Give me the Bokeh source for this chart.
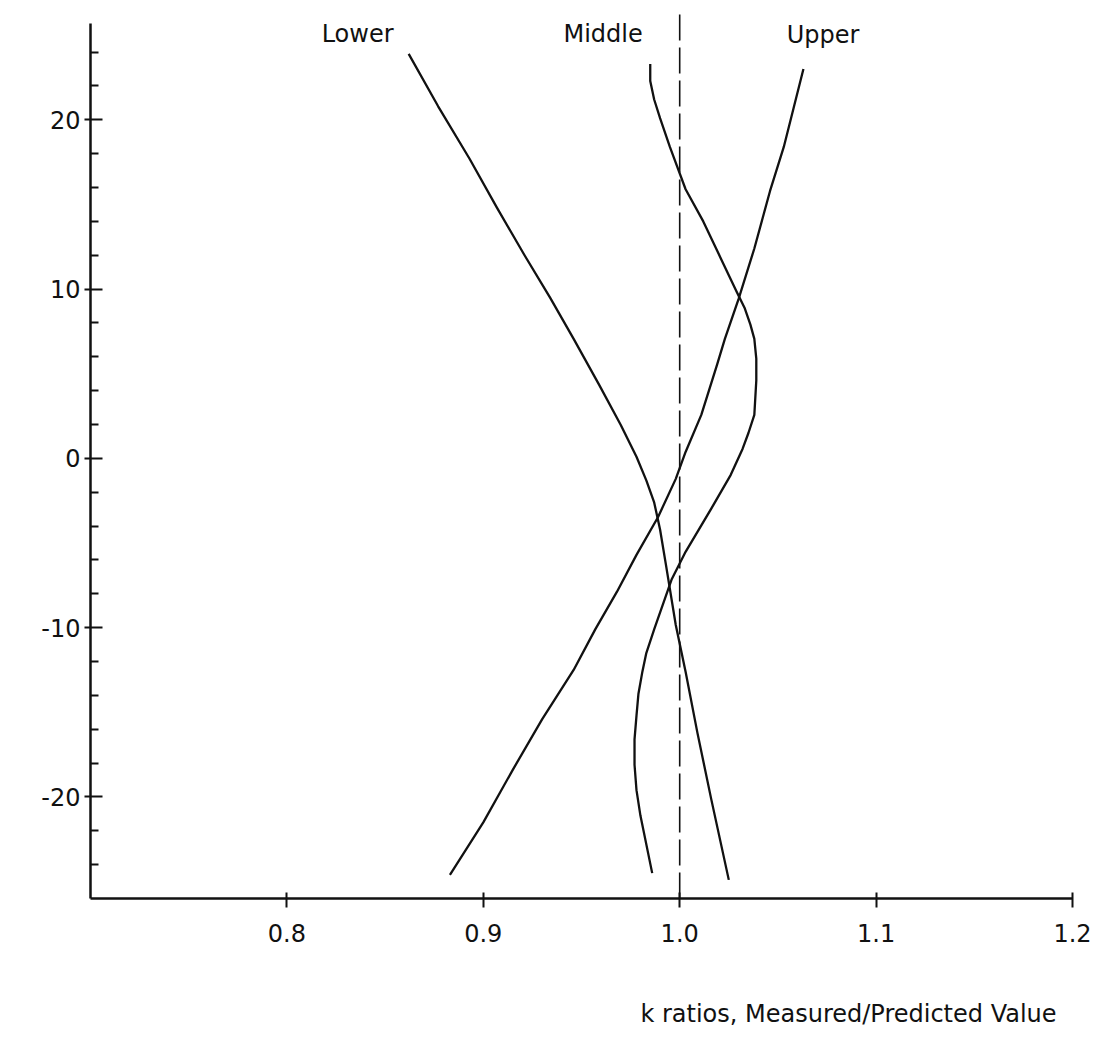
from bokeh.plotting import figure
from bokeh.layouts import column
from bokeh.models import FixedTicker, Range1d
from bokeh.core.properties import value
from bokeh.embed import file_html
from bokeh.resources import INLINE

# ---- data ----
lower_x = [0.862, 0.877, 0.893, 0.907, 0.921, 0.934, 0.946, 0.959, 0.970, 0.978, 0.983, 0.987, 0.990,
           0.993, 0.998, 1.003, 1.009, 1.016, 1.025]
lower_y = [23.9, 20.8, 17.7, 14.8, 12.0, 9.5, 7.06, 4.34, 1.97, 0.1, -1.3, -2.6, -4.2,
           -6.29, -9.84, -12.6, -16.2, -20.1, -24.9]

middle_x = [0.985, 0.985, 0.987, 0.990, 0.995, 1.003, 1.012, 1.021, 1.029, 1.033, 1.036, 1.038, 1.039, 1.039,
            1.038, 1.035, 1.032, 1.026, 1.016, 1.003, 0.996, 0.987, 0.983, 0.981, 0.979, 0.978, 0.977,
            0.977, 0.978, 0.980, 0.986]
middle_y = [23.3, 22.3, 21.2, 20.1, 18.4, 15.9, 14.0, 11.8, 9.84, 8.9, 7.9, 7.06, 5.9, 4.6,
            2.57, 1.5, 0.56, -0.97, -2.98, -5.52, -7.12, -10.1, -11.5, -12.6, -13.9, -15.2, -16.6,
            -18.1, -19.6, -21.1, -24.5]

upper_x = [1.063, 1.058, 1.053, 1.046, 1.038, 1.030, 1.023, 1.019, 1.011, 1.003, 0.998, 0.989, 0.978, 0.968,
           0.957, 0.946, 0.930, 0.915, 0.900, 0.883]
upper_y = [23.0, 20.7, 18.4, 15.8, 12.4, 9.42, 7.06, 5.52, 2.57, 0.38, -1.21, -3.46, -5.70, -7.89,
           -10.1, -12.5, -15.4, -18.4, -21.5, -24.6]

curve_names = ["Lower", "Middle", "Upper"]
name_x = [0.836, 0.961, 1.073]
name_y = [25.1, 25.1, 25.0]

ref_x = [1.0, 1.0]
ref_y = [-26.0, 26.4]

y_ticks = [-20, -10, 0, 10, 20]
y_tick_labels = ["-20", "-10", "0", "10", "20"]
y_minor = [-24, -22, -18, -16, -14, -12, -8, -6, -4, -2, 2, 4, 6, 8, 12, 14, 16, 18, 22, 24]
x_ticks = [0.8, 0.9, 1.0, 1.1, 1.2]
x_tick_labels = ["0.8", "0.9", "1.0", "1.1", "1.2"]
x_title = "k ratios, Measured/Predicted Value"

FONT = "DejaVu Sans"
INK = "#111111"
W = 1105
LEFT, RIGHT = 90, 33

p = figure(width=W, height=962,
           x_range=Range1d(0.7, 1.2), y_range=Range1d(-26, 26.4),
           output_backend="svg", toolbar_location=None,
           min_border_left=LEFT, min_border_right=RIGHT, min_border_top=11, min_border_bottom=64)
p.outline_line_color = None
p.grid.visible = False
p.background_fill_color = "white"
p.border_fill_color = "white"

# y axis
p.yaxis.ticker = FixedTicker(ticks=y_ticks, minor_ticks=y_minor)
p.yaxis.major_label_overrides = {t: l for t, l in zip(y_ticks, y_tick_labels)}
p.yaxis.bounds = (-26, 25.7)
p.yaxis.major_tick_in = 12
p.yaxis.major_tick_out = 6
p.yaxis.minor_tick_in = 8
p.yaxis.minor_tick_out = 0
p.yaxis.major_label_standoff = 4

# x axis
xa = p.xaxis[0]
xa.ticker = FixedTicker(ticks=x_ticks, minor_ticks=[])
xa.major_label_overrides = {t: l for t, l in zip(x_ticks, x_tick_labels)}
xa.bounds = (0.7, 1.2)
xa.major_tick_in = 6
xa.major_tick_out = 9
xa.major_label_standoff = 16

for ax in (p.xaxis[0], p.yaxis[0]):
    ax.axis_line_width = 2.5
    ax.axis_line_color = INK
    ax.major_tick_line_width = 2
    ax.minor_tick_line_width = 2
    ax.major_tick_line_color = INK
    ax.minor_tick_line_color = INK
    ax.major_label_text_font = FONT
    ax.major_label_text_font_size = "24px"
    ax.major_label_text_color = INK

# reference dashed line at 1.0
p.line(ref_x, ref_y, line_color=INK, line_width=1.6, line_dash="26 7")

# curves
for xs, ys in ((lower_x, lower_y), (middle_x, middle_y), (upper_x, upper_y)):
    p.line(xs, ys, line_color=INK, line_width=2.3, line_join="round")

# curve names
p.text(x=name_x, y=name_y, text=curve_names, text_font=value(FONT), text_font_size="24px",
       text_align="center", text_baseline="middle", text_color=INK)

# strip underneath holding the x-axis title (same horizontal scale as the plot)
t = figure(width=W, height=70, x_range=p.x_range, y_range=Range1d(0, 1),
           output_backend="svg", toolbar_location=None,
           min_border_left=LEFT, min_border_right=RIGHT, min_border_top=0, min_border_bottom=0)
t.axis.visible = False
t.grid.visible = False
t.outline_line_color = None
t.background_fill_color = "white"
t.border_fill_color = "white"
t.text(x=[0.980], y=[0.26], text=[x_title], text_font=value(FONT), text_font_size="24px",
       text_align="left", text_baseline="middle", text_color=INK)

layout = column(p, t, spacing=0)
open("out.html", "w").write(file_html(layout, INLINE))
